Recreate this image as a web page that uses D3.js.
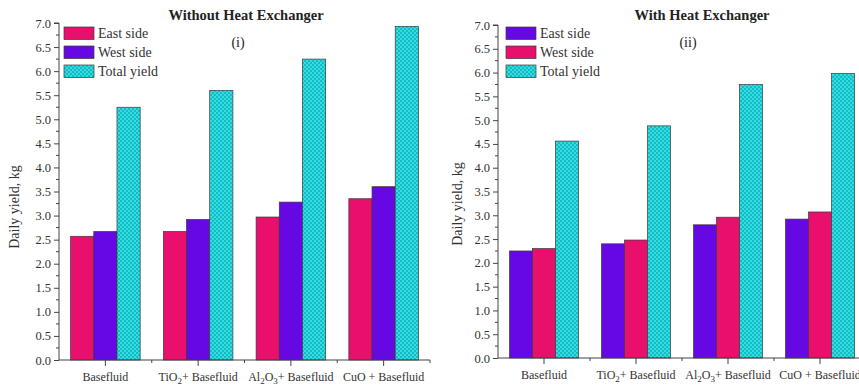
<!DOCTYPE html>
<html>
<head>
<meta charset="utf-8">
<script src="https://cdn.jsdelivr.net/npm/d3@7/dist/d3.min.js"></script>
<style>
  html, body { margin: 0; padding: 0; background: #fff; }
  svg { display: block; font-family: "Liberation Serif", "Times New Roman", serif; }
</style>
</head>
<body>
<svg id="chart" width="859" height="387"></svg>
<script>
// Categories (fluid types); subscripts marked as [text, isSub] pieces
const categories = ["Basefluid", "TiO2 + Basefluid", "Al2O3 + Basefluid", "CuO + Basefluid"];
const categoryParts = [
  [["Basefluid", false]],
  [["TiO", false], ["2", true], ["+ Basefluid", false]],
  [["Al", false], ["2", true], ["O", false], ["3", true], ["+ Basefluid", false]],
  [["CuO + Basefluid", false]]
];

// Panel (i): without heat exchanger
const eastWithout  = [2.57, 2.67, 2.97, 3.35];
const westWithout  = [2.67, 2.92, 3.28, 3.60];
const totalWithout = [5.25, 5.60, 6.25, 6.93];

// Panel (ii): with heat exchanger
const eastWith  = [2.25, 2.40, 2.80, 2.92];
const westWith  = [2.30, 2.48, 2.96, 3.07];
const totalWith = [4.56, 4.88, 5.75, 5.98];

const yTicks = [0, 0.5, 1, 1.5, 2, 2.5, 3, 3.5, 4, 4.5, 5, 5.5, 6, 6.5, 7];
const seriesNames = ["East side", "West side", "Total yield"];

const CRIMSON = "#e8106c";
const PURPLE = "#6608e4";

const svg = d3.select("#chart");
const defs = svg.append("defs");

// fine checkered fill for the total-yield bars
const pat = defs.append("pattern")
  .attr("id", "check")
  .attr("width", 4).attr("height", 4)
  .attr("patternUnits", "userSpaceOnUse");
pat.append("rect").attr("width", 4).attr("height", 4).attr("fill", "#2fe0e0");
pat.append("rect").attr("width", 2).attr("height", 2).attr("fill", "#1ab8c4");
pat.append("rect").attr("x", 2).attr("y", 2).attr("width", 2).attr("height", 2).attr("fill", "#1ab8c4");

function drawPanel(cfg) {
  const g = svg.append("g");
  const x = d3.scaleBand().domain(categories)
    .range([cfg.x0, cfg.x0 + 4 * cfg.step])
    .paddingInner(0.25).paddingOuter(0.125);
  const y = d3.scaleLinear().domain([0, 7]).range([cfg.yBottom, cfg.yTop]);
  const sub = d3.scaleBand().domain([0, 1, 2]).range([0, x.bandwidth()]);

  const series = [
    { vals: cfg.first, fill: cfg.colors[0] },
    { vals: cfg.second, fill: cfg.colors[1] },
    { vals: cfg.total, fill: "url(#check)" }
  ];

  series.forEach((s, si) => {
    g.selectAll(null).data(s.vals).enter().append("rect")
      .attr("x", (d, i) => x(categories[i]) + sub(si))
      .attr("y", d => y(d))
      .attr("width", sub.bandwidth())
      .attr("height", d => y(0) - y(d))
      .attr("fill", s.fill)
      .attr("stroke", "#3a3a3a")
      .attr("stroke-width", 0.7);
  });

  // y axis: major ticks every 0.5 with minor ticks between
  const yAxis = g.append("g").attr("transform", `translate(${cfg.x0},0)`)
    .call(d3.axisLeft(y).tickValues(yTicks).tickFormat(d3.format(".1f")).tickSize(5).tickPadding(3));
  yAxis.selectAll("text").attr("font-size", 12.5).attr("fill", "#333")
    .attr("font-family", "Liberation Serif, serif");
  yAxis.append("g").selectAll("line")
    .data(d3.range(0.25, 7, 0.5)).enter().append("line")
    .attr("x1", -3).attr("x2", 0)
    .attr("y1", d => y(d)).attr("y2", d => y(d))
    .attr("stroke", "#444");
  yAxis.select(".domain").attr("stroke", "#444").attr("d", `M-5,${y(7)}H0V${y(0)}`);
  yAxis.selectAll(".tick line").attr("stroke", "#444");

  // x axis: major ticks at category centres, minor ticks between groups
  const xAxis = g.append("g").attr("transform", `translate(0,${cfg.yBottom})`);
  xAxis.append("line").attr("x1", cfg.x0).attr("x2", cfg.x0 + 4 * cfg.step)
    .attr("stroke", "#444").attr("stroke-width", 1.2);
  xAxis.selectAll(".maj").data(categories).enter().append("line")
    .attr("x1", d => x(d) + x.bandwidth() / 2).attr("x2", d => x(d) + x.bandwidth() / 2)
    .attr("y1", 0).attr("y2", 6).attr("stroke", "#444");
  xAxis.selectAll(".min").data(d3.range(1, 5)).enter().append("line")
    .attr("x1", d => cfg.x0 + d * x.step()).attr("x2", d => cfg.x0 + d * x.step())
    .attr("y1", 0).attr("y2", 3).attr("stroke", "#444");

  const labels = xAxis.selectAll(".lab").data(categoryParts).enter().append("text")
    .attr("x", (d, i) => x(categories[i]) + x.bandwidth() / 2)
    .attr("y", 21)
    .attr("text-anchor", "middle")
    .attr("font-size", 12)
    .attr("fill", "#333");
  labels.each(function(parts) {
    const t = d3.select(this);
    parts.forEach(([txt, isSub]) => {
      t.append("tspan").text(txt)
        .attr("font-size", isSub ? 9 : 12)
        .attr("baseline-shift", isSub ? "-35%" : null);
    });
  });

  // y-axis title
  svg.append("text")
    .attr("transform", `translate(${cfg.yLabelX},${cfg.yLabelY}) rotate(-90)`)
    .attr("text-anchor", "middle")
    .attr("font-size", 14)
    .attr("fill", "#333")
    .text("Daily yield, kg");

  // titles
  svg.append("text").attr("x", cfg.titleX).attr("y", 20)
    .attr("text-anchor", "middle").attr("font-weight", "bold")
    .attr("font-size", 14.5).attr("fill", "#222").text(cfg.title);
  svg.append("text").attr("x", cfg.subX).attr("y", 47)
    .attr("text-anchor", "middle")
    .attr("font-size", 14).attr("fill", "#222").text(cfg.sub);

  // legend
  const leg = svg.append("g").attr("transform", `translate(${cfg.legX},27)`);
  const legFills = [cfg.colors[0], cfg.colors[1], "url(#check)"];
  seriesNames.forEach((name, i) => {
    leg.append("rect").attr("x", 0).attr("y", i * 19)
      .attr("width", 30).attr("height", 12.5)
      .attr("fill", legFills[i]).attr("stroke", "#3a3a3a").attr("stroke-width", 0.7);
    leg.append("text").attr("x", 34).attr("y", i * 19 + 11)
      .attr("font-size", 14).attr("fill", "#333").text(name);
  });
}

drawPanel({
  x0: 59, step: 92.75, yTop: 23, yBottom: 360,
  first: eastWithout, second: westWithout, total: totalWithout,
  colors: [CRIMSON, PURPLE],
  yLabelX: 19, yLabelY: 207,
  title: "Without Heat Exchanger", titleX: 246,
  sub: "(i)", subX: 238, legX: 64
});

drawPanel({
  x0: 498, step: 92, yTop: 25, yBottom: 358,
  first: eastWith, second: westWith, total: totalWith,
  colors: [PURPLE, CRIMSON],
  yLabelX: 462, yLabelY: 204,
  title: "With Heat Exchanger", titleX: 702,
  sub: "(ii)", subX: 688, legX: 506
});
</script>
</body>
</html>
